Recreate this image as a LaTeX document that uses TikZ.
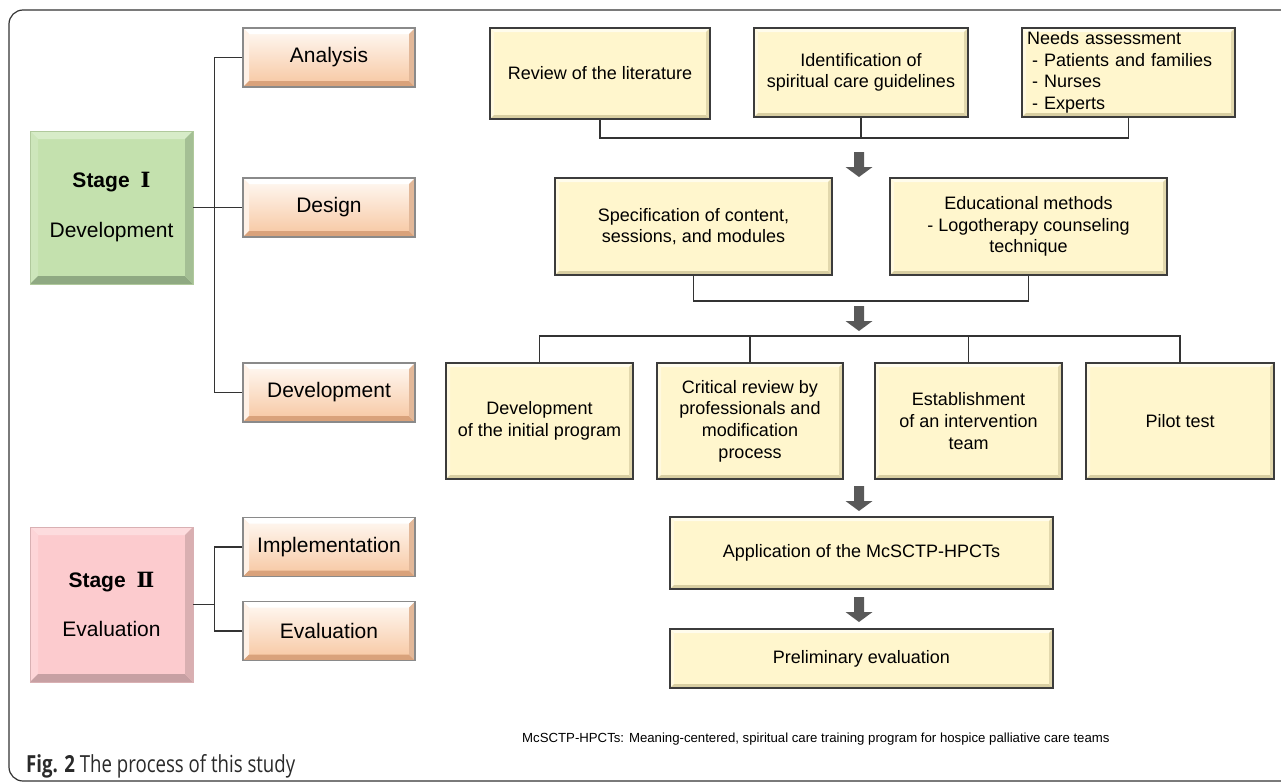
\documentclass[tikz,border=0pt]{standalone}
\usepackage{fontspec}
\usepackage{graphicx}
\setmainfont{Liberation Sans}
\newfontfamily\romfont{DejaVu Serif}
\newfontfamily\capfont{Open Sans}
\definecolor{yfill}{HTML}{FFF6CD}
\definecolor{yT}{HTML}{FFFCEC}
\definecolor{yL}{HTML}{FFF9E0}
\definecolor{yB}{HTML}{D8CEA2}
\definecolor{yR}{HTML}{E2D8AD}
\definecolor{yborder}{HTML}{3C3C3C}
\definecolor{oTop}{HTML}{FFFAF5}
\definecolor{oBot}{HTML}{F7C6A0}
\definecolor{oT}{HTML}{FFFFFF}
\definecolor{oL}{HTML}{FFF1E6}
\definecolor{oB}{HTML}{D9A27B}
\definecolor{oR}{HTML}{E2B899}
\definecolor{oborder}{HTML}{8A8A8A}
\definecolor{gfill}{HTML}{C4E1AE}
\definecolor{gT}{HTML}{D7ECC8}
\definecolor{gL}{HTML}{CDE6BB}
\definecolor{gB}{HTML}{8FA982}
\definecolor{gR}{HTML}{A4BF94}
\definecolor{gborder}{HTML}{B0C99C}
\definecolor{pfill}{HTML}{FCCBCE}
\definecolor{pT}{HTML}{FDDCDE}
\definecolor{pL}{HTML}{FDD5D8}
\definecolor{pB}{HTML}{C7A0A3}
\definecolor{pR}{HTML}{D9AFB1}
\definecolor{pborder}{HTML}{D9B0B3}
\definecolor{arrowgray}{HTML}{595959}
\definecolor{conncol}{HTML}{333333}
\definecolor{framecol}{HTML}{333333}
\definecolor{captext}{HTML}{2A2A2A}
\tikzset{
  bev/.style n args={5}{path picture={
    \path (path picture bounding box.north west) coordinate (bvnw)
          (path picture bounding box.north east) coordinate (bvne)
          (path picture bounding box.south west) coordinate (bvsw)
          (path picture bounding box.south east) coordinate (bvse);
    \fill[#2] (bvnw) -- (bvne) -- ([xshift=-#1,yshift=-#1]bvne) -- ([xshift=#1,yshift=-#1]bvnw) -- cycle;
    \fill[#3] (bvnw) -- (bvsw) -- ([xshift=#1,yshift=#1]bvsw) -- ([xshift=#1,yshift=-#1]bvnw) -- cycle;
    \fill[#4] (bvsw) -- (bvse) -- ([xshift=-#1,yshift=#1]bvse) -- ([xshift=#1,yshift=#1]bvsw) -- cycle;
    \fill[#5] (bvne) -- (bvse) -- ([xshift=-#1,yshift=#1]bvse) -- ([xshift=-#1,yshift=-#1]bvne) -- cycle;
  }},
  ybox/.style={draw=yborder, line width=1.3pt, fill=yfill, inner sep=0pt, align=center,
    font=\fontsize{18}{21.6}\selectfont, bev={4pt}{yT}{yL}{yB}{yR}},
  obox/.style={draw=oborder, line width=1.2pt, top color=oTop, bottom color=oBot,
    minimum width=172, minimum height=59, inner sep=0pt,
    font=\fontsize{21}{25}\selectfont, bev={6pt}{oT}{oL}{oB}{oR}},
  gbox/.style={draw=gborder, line width=0.8pt, fill=gfill, minimum width=163, minimum height=153,
    inner sep=0pt, align=center, font=\fontsize{21}{25}\selectfont, bev={8pt}{gT}{gL}{gB}{gR}},
  pbox/.style={draw=pborder, line width=0.8pt, fill=pfill, minimum width=163, minimum height=155,
    inner sep=0pt, align=center, font=\fontsize{21}{25}\selectfont, bev={8pt}{pT}{pL}{pB}{pR}},
  conn/.style={draw=conncol, line width=1.5pt},
  pics/barrow/.style={code={
    \fill[arrowgray] (-5,0) -- (5,0) -- (5,15) -- (13.5,15) -- (0,25) -- (-13.5,15) -- (-5,15) -- cycle;}}
}
\begin{document}
\begin{tikzpicture}[x=1pt,y=-1pt]
\useasboundingbox (0,0) rectangle (1281,782);
\begin{scope}
  \clip (0,0) rectangle (1281,782);
  \draw[framecol, line width=1.2pt, rounded corners=14pt] (9,10) rectangle (1310,781);
\end{scope}

% left column
\node[gbox] (s1) at (111.5,207.5) {\textbf{Stage}\hspace{11pt}{\romfont\bfseries Ⅰ}\\[25pt]Development};
\node[pbox] (s2) at (111.5,604.5) {\textbf{Stage}\hspace{11pt}{\romfont\bfseries Ⅱ}\\[24pt]Evaluation};
\node[obox] (ana) at (329,57.5) {Analysis};
\node[obox] (des) at (329,207.5) {Design};
\node[obox] (dvp) at (329,392.5) {Development};
\node[obox] (imp) at (329,547) {Implementation};
\node[obox] (eva) at (329,631) {Evaluation};

\draw[conn] (s1.east) -- (des.west);
\draw[conn] (ana.west) -- ++(-28,0) |- (dvp.west);
\draw[conn] (s2.east) -- ++(22,0);
\draw[conn] (imp.west) -- ++(-28,0) |- (eva.west);

% right column
\node[ybox, minimum width=220, minimum height=91] (rev) at (600,73.5) {Review of the literature};
\node[ybox, minimum width=214, minimum height=89] (ide) at (861,72.5) {Identification of\\spiritual care guidelines};
\node[ybox, minimum width=213, minimum height=89, text width=203pt, inner xsep=5pt, align=left] (nee) at (1128.5,72.5)
  {Needs assessment\\\hspace*{5pt}- Patients and families\\\hspace*{5pt}- Nurses\\\hspace*{5pt}- Experts};

\coordinate (j1) at (859,138);
\draw[conn] (rev.south) |- (j1) -| (nee.south);
\draw[conn] (ide.south) -- (ide.south |- j1);
\pic at (859,152) {barrow};

\node[ybox, minimum width=277, minimum height=97] (spe) at (693.5,226.5) {Specification of content,\\sessions, and modules};
\node[ybox, minimum width=277, minimum height=97] (edu) at (1028.5,226.5) {Educational methods\\- Logotherapy counseling\\technique};

\coordinate (j2) at (859,301);
\draw[conn] (spe.south) |- (j2) -| (edu.south);
\pic at (859,306) {barrow};

\node[ybox, minimum width=187, minimum height=116] (d1) at (539.5,421) {Development\\of the initial program};
\node[ybox, minimum width=186, minimum height=116] (d2) at (750,421) {Critical review by\\professionals and\\modification\\process};
\node[ybox, minimum width=187, minimum height=116] (d3) at (968.5,421) {Establishment\\of an intervention\\team};
\node[ybox, minimum width=188, minimum height=116] (d4) at (1180,421) {Pilot test};

\coordinate (j3) at (859,336);
\draw[conn] (d1.north) |- (j3) -| (d4.north);
\draw[conn] (d2.north) -- (d2.north |- j3);
\draw[conn] (d3.north) -- (d3.north |- j3);

\pic at (859,486) {barrow};
\node[ybox, minimum width=383, minimum height=72] (app) at (861.5,553) {Application of the McSCTP-HPCTs};
\pic at (859,597) {barrow};
\node[ybox, minimum width=383, minimum height=59] (pre) at (861.5,658.5) {Preliminary evaluation};

\node[anchor=west, inner sep=0pt, font=\fontsize{13.2}{16}\selectfont] (fn) at (522,739)
  {McSCTP-HPCTs: Meaning-centered, spiritual care training program for hospice palliative care teams};
\node[anchor=base west, inner sep=0pt, text=captext] (cap) at (26,772)
  {\resizebox{269pt}{18pt}{\capfont\fontsize{22}{26}\selectfont\textbf{Fig. 2} The process of this study}};
\end{tikzpicture}
\end{document}
